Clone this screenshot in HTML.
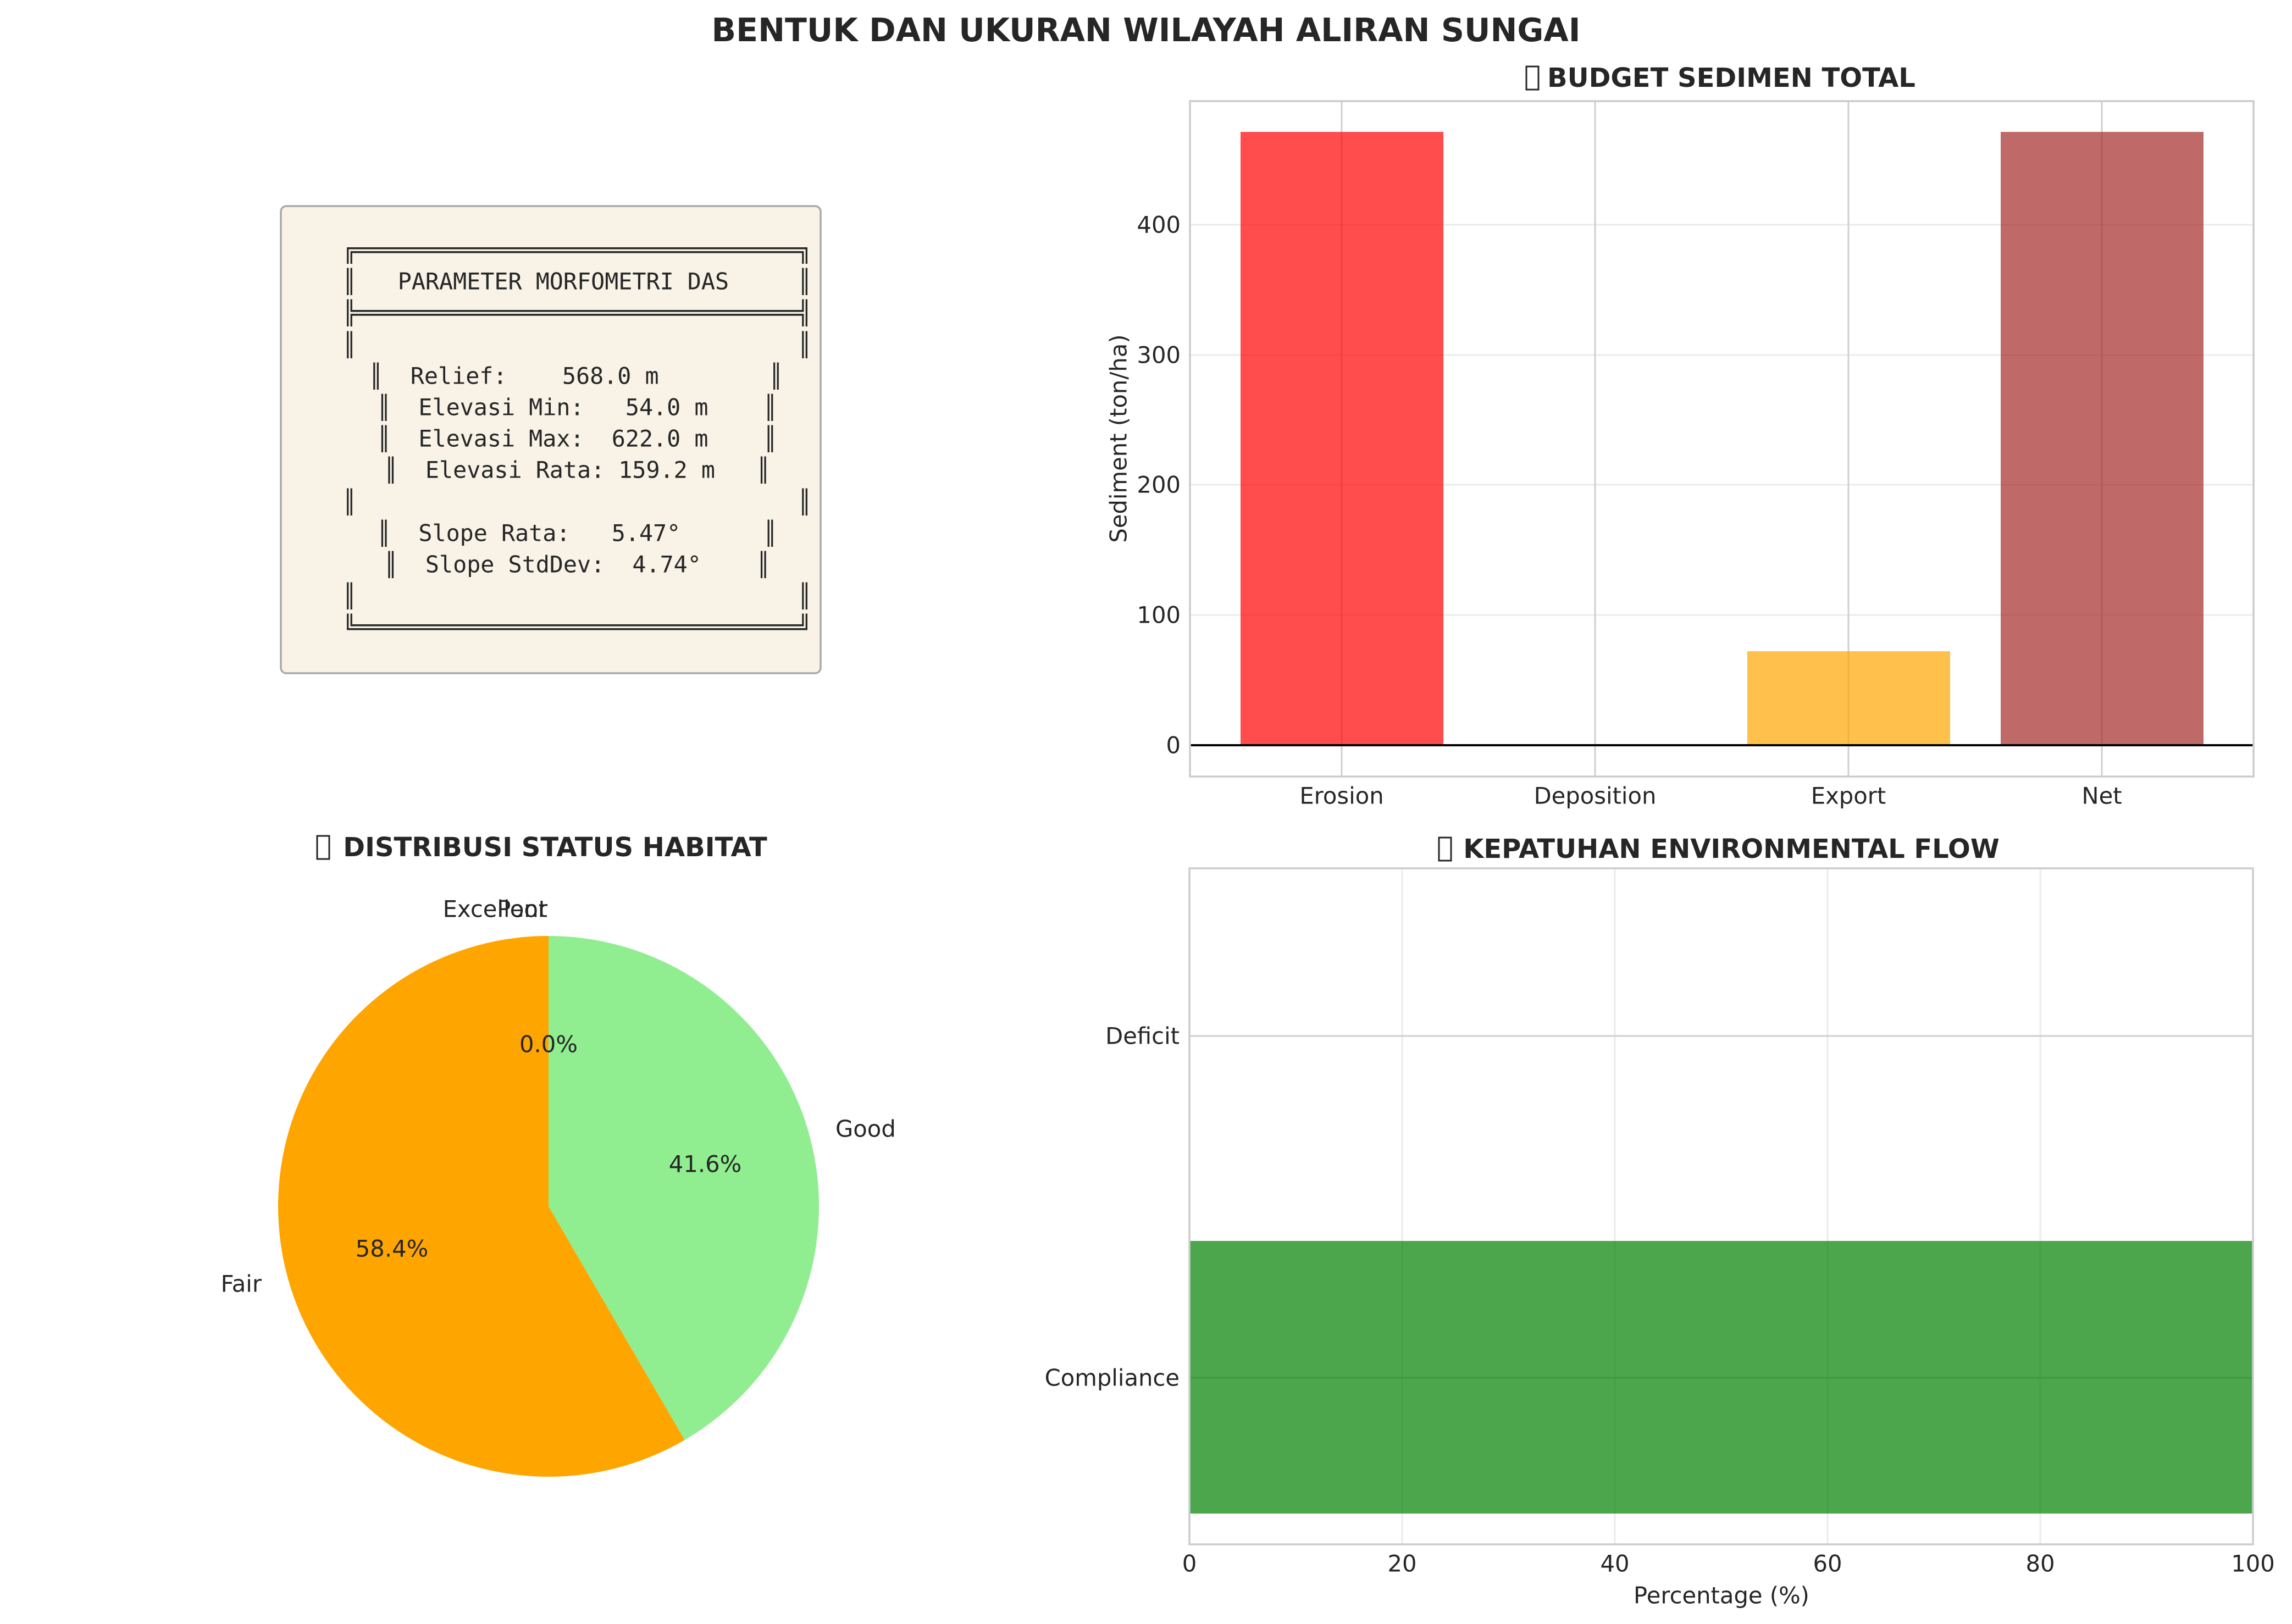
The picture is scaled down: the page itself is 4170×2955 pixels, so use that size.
<!DOCTYPE html>
<html><head><meta charset="utf-8"><style>
html,body{margin:0;padding:0;background:#fff}
svg{display:block}
text{font-family:"DejaVu Sans","Liberation Sans",sans-serif;fill:#262626}
.m{font-family:"DejaVu Sans Mono","Liberation Mono",monospace;font-size:41.7px;fill:#262626}
</style></head><body>
<svg width="4170" height="2955" viewBox="0 0 4170 2955" xmlns="http://www.w3.org/2000/svg">
<rect width="4170" height="2955" fill="#fff"/>
<text x="2085" y="55" text-anchor="middle" dominant-baseline="central" font-size="58.5" font-weight="bold">BENTUK DAN UKURAN WILAYAH ALIRAN SUNGAI</text>

<!-- Text box -->
<rect x="511" y="375" width="982" height="850" rx="10" fill="#f8f3e6" stroke="#a9a9a9" stroke-width="3.5"/>
<g class="m" text-anchor="middle" dominant-baseline="central" xml:space="preserve">
<text class="m" x="1050" y="455" xml:space="preserve">╔════════════════════════════════╗</text>
<text class="m" x="1050" y="512" xml:space="preserve">║   PARAMETER MORFOMETRI DAS     ║</text>
<text class="m" x="1050" y="569" xml:space="preserve">╠════════════════════════════════╣</text>
<text class="m" x="1050" y="627" xml:space="preserve">║                                ║</text>
<text class="m" x="1048" y="684" xml:space="preserve">║  Relief:    568.0 m        ║</text>
<text class="m" x="1050" y="741" xml:space="preserve">║  Elevasi Min:   54.0 m    ║</text>
<text class="m" x="1050" y="798" xml:space="preserve">║  Elevasi Max:  622.0 m    ║</text>
<text class="m" x="1050" y="855" xml:space="preserve">║  Elevasi Rata: 159.2 m   ║</text>
<text class="m" x="1050" y="913" xml:space="preserve">║                                ║</text>
<text class="m" x="1050" y="970" xml:space="preserve">║  Slope Rata:   5.47°      ║</text>
<text class="m" x="1050" y="1027" xml:space="preserve">║  Slope StdDev:  4.74°    ║</text>
<text class="m" x="1050" y="1084" xml:space="preserve">║                                ║</text>
<text class="m" x="1050" y="1141" xml:space="preserve">╚════════════════════════════════╝</text>
</g>

<!-- Top-right bar chart -->
<text x="2815" y="142" text-anchor="start" dominant-baseline="central" font-size="48" font-weight="bold">BUDGET SEDIMEN TOTAL</text>
<rect x="2777" y="121" width="22" height="42" fill="none" stroke="#262626" stroke-width="3"/>
<g stroke="#ebebeb" stroke-width="3">
<line x1="2165" x2="4100" y1="1119" y2="1119"/><line x1="2165" x2="4100" y1="882" y2="882"/>
<line x1="2165" x2="4100" y1="646" y2="646"/><line x1="2165" x2="4100" y1="409" y2="409"/>
</g>
<g stroke="#cfcfcf" stroke-width="3">
<line x1="2441" x2="2441" y1="184" y2="1413"/><line x1="2902" x2="2902" y1="184" y2="1413"/>
<line x1="3363" x2="3363" y1="184" y2="1413"/><line x1="3824" x2="3824" y1="184" y2="1413"/>
</g>
<rect x="2257" y="240" width="369" height="1116" fill="#ff0000" fill-opacity="0.7"/>
<rect x="3179" y="1185" width="369" height="171" fill="#FFA500" fill-opacity="0.7"/>
<rect x="3640" y="240" width="369" height="1116" fill="#A52A2A" fill-opacity="0.7"/>
<line x1="2165" x2="4100" y1="1356" y2="1356" stroke="#000" stroke-width="4"/>
<rect x="2165" y="184" width="1935" height="1229" fill="none" stroke="#cccccc" stroke-width="3.5"/>
<g font-size="41.7" text-anchor="end" dominant-baseline="central">
<text x="2148" y="1356">0</text><text x="2148" y="1119">100</text><text x="2148" y="882">200</text>
<text x="2148" y="646">300</text><text x="2148" y="409">400</text>
</g>
<g font-size="41.7" text-anchor="middle" dominant-baseline="central">
<text x="2441" y="1448">Erosion</text><text x="2902" y="1448">Deposition</text>
<text x="3363" y="1448">Export</text><text x="3824" y="1448">Net</text>
</g>
<text x="2035" y="798" font-size="41.7" text-anchor="middle" dominant-baseline="central" transform="rotate(-90 2035 798)">Sediment (ton/ha)</text>

<!-- Pie -->
<text x="1010" y="1542" text-anchor="middle" dominant-baseline="central" font-size="48" font-weight="bold">DISTRIBUSI STATUS HABITAT</text>
<rect x="577" y="1521" width="22" height="42" fill="none" stroke="#262626" stroke-width="3"/>
<path d="M998,2195 L998,1703 A492,492 0 1,0 1245.7,2620.1 Z" fill="#FFA500"/>
<path d="M998,2195 L1245.7,2620.1 A492,492 0 0,0 998,1703 Z" fill="#90EE90"/>
<g font-size="41.7" dominant-baseline="central">
<text x="996" y="1654" text-anchor="end">Excellent</text>
<text x="996" y="1654" text-anchor="end">Poor</text>
<text x="476" y="2336" text-anchor="end">Fair</text>
<text x="1520" y="2054" text-anchor="start">Good</text>
<text x="998" y="1900" text-anchor="middle">0.0%</text>
<text x="713" y="2272" text-anchor="middle">58.4%</text>
<text x="1283" y="2118" text-anchor="middle">41.6%</text>
</g>

<!-- Bottom-right hbar -->
<text x="3150" y="1545" text-anchor="middle" dominant-baseline="central" font-size="48" font-weight="bold">KEPATUHAN ENVIRONMENTAL FLOW</text>
<rect x="2618" y="1524" width="22" height="42" fill="none" stroke="#262626" stroke-width="3"/>
<g stroke="#ebebeb" stroke-width="3">
<line x1="2551" x2="2551" y1="1580" y2="2810"/><line x1="2938" x2="2938" y1="1580" y2="2810"/>
<line x1="3325" x2="3325" y1="1580" y2="2810"/><line x1="3712" x2="3712" y1="1580" y2="2810"/>
</g>
<g stroke="#cfcfcf" stroke-width="3">
<line x1="2164" x2="4099" y1="1885" y2="1885"/><line x1="2164" x2="4099" y1="2507" y2="2507"/>
</g>
<rect x="2164" y="2258" width="1935" height="496" fill="#008000" fill-opacity="0.7"/>
<rect x="2164" y="1580" width="1935" height="1230" fill="none" stroke="#cccccc" stroke-width="3.5"/>
<g font-size="41.7" text-anchor="end" dominant-baseline="central">
<text x="2146" y="1885">Deficit</text><text x="2146" y="2507">Compliance</text>
</g>
<g font-size="41.7" text-anchor="middle" dominant-baseline="central">
<text x="2164" y="2845">0</text><text x="2551" y="2845">20</text><text x="2938" y="2845">40</text>
<text x="3325" y="2845">60</text><text x="3712" y="2845">80</text><text x="4099" y="2845">100</text>
<text x="3132" y="2903">Percentage (%)</text>
</g>
</svg>
</body></html>
